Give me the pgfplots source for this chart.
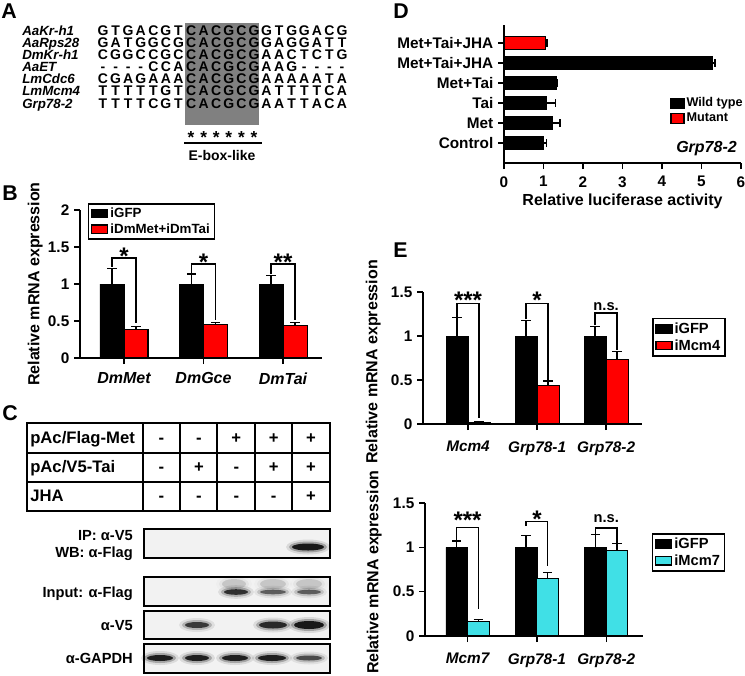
\documentclass[border=0pt]{standalone}
\usepackage{pgfplots}
\pgfplotsset{compat=1.18}
\usepackage{fontspec}
\setmainfont{Liberation Sans}
\definecolor{cyanbar}{RGB}{64,224,230}
\definecolor{boxgray}{RGB}{128,128,128}
\newcommand\fs[1]{\fontsize{#1}{#1}\selectfont}
\newcommand\band[5]{%
  \pgfmathsetmacro\oa{0.10*#5}\pgfmathsetmacro\ob{0.25*#5}\pgfmathsetmacro\oc{0.85*#5}%
  \fill[black, opacity=\oa] (#1,#2) ellipse ({#3+6} and {#4+4});
  \fill[black, opacity=\ob] (#1,#2) ellipse ({#3+3} and {#4+2});
  \fill[black, opacity=\oc] (#1,#2) ellipse ({#3} and {#4});}
\pgfplotsset{
 gp/.style={
  scale only axis, anchor=south west, clip=false,
  axis lines*=left,
  axis line style={line width=1.1pt, black},
  tick style={line width=1.1pt, black},
  major tick length=4.5pt, tick align=outside,
  ticklabel style={font=\bfseries\fs{11.5}},
  label style={font=\bfseries\fs{12}},
  /pgf/number format/assume math mode=true,
  legend cell align=left,
  legend style={draw=black, line width=1.1pt, fill=white, inner xsep=2pt, inner ysep=1.5pt,
    row sep=0pt, font=\bfseries\fs{11}, nodes={inner sep=1.5pt}},
 },
 sq/.style={legend image code/.code={\draw[##1, line width=0.8pt] (0pt,-3.2pt) rectangle (12pt,3.2pt);}},
 sqd/.style={legend image code/.code={\draw[##1, line width=0.8pt] (0pt,-3.8pt) rectangle (9.75pt,3.8pt);}},
 yeb/.style={error bars/.cd, y dir=plus, y explicit, error bar style={line width=1pt,black},
    error mark options={rotate=90, line width=1pt, black, mark size=3.5pt}},
 xeb/.style={error bars/.cd, x dir=plus, x explicit, error bar style={line width=1pt,black},
    error mark options={rotate=90, line width=1pt, black, mark size=3pt}},
}
\begin{document}
\begin{tikzpicture}[font=\bfseries]
\useasboundingbox (0,0) rectangle (558.75pt,-506.25pt);
\begin{scope}[x=0.75pt,y=-0.75pt]
% panel letters
\foreach \L/\x/\y in {A/1/18, B/2/200, C/2/420, D/393/18, E/393/257}
  \node[anchor=base west, inner sep=0, font=\bfseries\fs{16}] at (\x,\y) {\L};
% ---------- Panel A
\fill[boxgray] (185,23) rectangle (259,125);
\foreach \name/\seq [count=\r from 0] in {
  AaKr-h1/{G,T,G,A,C,G,T,C,A,C,G,C,G,G,T,G,G,A,C,G},
  AaRps28/{G,A,T,G,G,C,G,C,A,C,G,C,G,G,A,G,G,A,T,T},
  DmKr-h1/{C,G,G,C,C,G,C,C,A,C,G,C,G,A,A,C,T,C,T,G},
  AaET/{-,-,-,-,C,C,A,C,A,C,G,C,G,A,A,G,-,-,-,-},
  LmCdc6/{C,G,A,G,A,A,A,C,A,C,G,C,G,A,A,A,A,A,T,A},
  LmMcm4/{T,T,T,T,T,G,T,C,A,C,G,C,G,A,T,T,T,T,C,A},
  Grp78-2/{T,T,T,T,C,G,T,C,A,C,G,C,G,A,A,T,T,A,C,A}} {
  \node[anchor=base west, inner sep=0, font=\bfseries\itshape\fs{10}] at (22,{35+12.17*\r}) {\name};
  \foreach \c [count=\i from 0] in \seq
    \node[anchor=base, inner sep=0, font=\bfseries\fs{10.5}] at ({103+12.58*\i},{35+12.17*\r}) {\c};
}
\foreach \i in {7,...,12}
  \node[anchor=base, inner sep=0, font=\bfseries\fs{13}] at ({103+12.58*\i},143.5) {*};
\draw[line width=1.1pt] (184,143) -- (262,143);
\node[anchor=base, inner sep=0, font=\bfseries\fs{10.5}] at (222,160) {E-box-like};
% ---------- Panel C table
\begin{scope}[line width=1.1pt]
\draw (27,423) rectangle (330,511);
\draw (27,453) -- (330,453) (27,482) -- (330,482);
\foreach \x in {143,180,217,255,292} \draw (\x,423) -- (\x,511);
\end{scope}
\node[anchor=base west, inner sep=0, font=\bfseries\fs{12.5}] at (30,443) {pAc/Flag-Met};
\node[anchor=base west, inner sep=0, font=\bfseries\fs{12.5}] at (30,472.5) {pAc/V5-Tai};
\node[anchor=base west, inner sep=0, font=\bfseries\fs{12.5}] at (30,501.5) {JHA};
\foreach \s [count=\i from 0] in {-,-,+,+,+}
  \node[anchor=base, inner sep=0, font=\bfseries\fs{12.5}] at ({161.5+37.4*\i},443) {\s};
\foreach \s [count=\i from 0] in {-,+,-,+,+}
  \node[anchor=base, inner sep=0, font=\bfseries\fs{12.5}] at ({161.5+37.4*\i},472.5) {\s};
\foreach \s [count=\i from 0] in {-,-,-,-,+}
  \node[anchor=base, inner sep=0, font=\bfseries\fs{12.5}] at ({161.5+37.4*\i},501.5) {\s};
% blots
\foreach \t/\b in {529/558, 577/606, 611/639, 644/673}
  \fill[black!5] (144,\t) rectangle (330,\b);
\band{308}{547}{16}{3.5}{1}
\band{234}{584}{12}{5}{0.15}\band{273}{584}{13}{5}{0.15}\band{309}{584}{13}{5}{0.15}
\band{236}{592}{12}{2.8}{0.85}\band{273}{592}{13}{2.3}{0.6}\band{309}{592}{12}{2.3}{0.6}
\band{197}{625}{12}{3}{0.8}\band{273}{625}{14}{3.5}{0.9}\band{309}{625}{15}{4}{1}
\band{160}{658}{13}{3}{0.95}\band{197}{658}{12}{3}{0.95}\band{235}{658}{13}{3}{0.95}
\band{272}{658}{14}{3}{0.95}\band{309}{658}{13}{2.5}{0.7}
\foreach \t/\b in {529/558, 577/606, 611/639, 644/673}
  \draw[line width=1.1pt] (144,\t) rectangle (330,\b);
\foreach \txt/\y in {IP: α-V5/540, WB: α-Flag/557, Input: α-Flag/597, α-V5/630, α-GAPDH/663}
  \node[anchor=base east, inner sep=0, font=\bfseries\fs{11}] at (133,\y) {\txt};
% D annotation
\node[anchor=base east, inner sep=0, font=\bfseries\itshape\fs{12}] at (737,152) {Grp78-2};
\end{scope}

% ---------- Panel B
\begin{axis}[gp, at={(60pt,-268.5pt)}, width=181.5pt, height=111pt,
  xmin=0.447, xmax=3.49, ymin=0, ymax=2,
  xtick={1,2,3}, xticklabels={DmMet,DmGce,DmTai},
  xticklabel style={font=\bfseries\itshape\fs{12}, yshift=-3pt},
  ytick={0,0.5,1,1.5,2},
  ylabel={Relative mRNA expression},
  ylabel style={at={(axis description cs:-0.153,0.5)}, anchor=south, inner sep=0pt},
  legend style={at={(0.033,1.047)}, anchor=north west, font=\bfseries\fs{10}}]
\addplot[ybar, bar width=18pt, bar shift=0pt, fill=black, draw=black, sq, yeb]
  coordinates {(0.849,1) +- (0,0.21) (1.849,1) +- (0,0.135) (2.849,1) +- (0,0.115)};
\addplot[ybar, bar width=18pt, bar shift=0pt, fill=red, draw=black, line width=0.8pt, sq, yeb]
  coordinates {(1.151,0.39) +- (0,0.04) (2.151,0.455) +- (0,0.025) (3.151,0.445) +- (0,0.035)};
\legend{iGFP,iDmMet+iDmTai}
\draw[line width=1.1pt] (axis cs:0.849,1.23) -- (axis cs:0.849,1.35) -- (axis cs:1.151,1.35) -- (axis cs:1.151,0.47);
\draw[line width=1.1pt] (axis cs:1.849,1.15) -- (axis cs:1.849,1.27) -- (axis cs:2.151,1.27) -- (axis cs:2.151,0.51);
\draw[line width=1.1pt] (axis cs:2.849,1.13) -- (axis cs:2.849,1.27) -- (axis cs:3.151,1.27) -- (axis cs:3.151,0.51);
\node[anchor=north, inner sep=0, font=\bfseries\fs{18}] at (axis cs:1,1.49) {*};
\node[anchor=north, inner sep=0, font=\bfseries\fs{18}] at (axis cs:2,1.405) {*};
\node[anchor=north, inner sep=0, font=\bfseries\fs{18}] at (axis cs:3,1.405) {**};
\end{axis}

% ---------- Panel D
\begin{axis}[gp, at={(378pt,-122.25pt)}, width=177.75pt, height=103.5pt,
  xmin=0, xmax=6, ymin=0, ymax=6.9,
  xtick={0,...,6}, ytick={1,...,6},
  xticklabel style={yshift=-2pt},
  yticklabels={Control,Met,Tai,Met+Tai,Met+Tai+JHA,Met+Tai+JHA},
  xlabel={Relative luciferase activity},
  xlabel style={at={(axis description cs:0.5,-0.308)}, anchor=base, inner sep=0pt},
  legend style={at={(0.688,0.507)}, anchor=north west, draw=none, fill=none, font=\bfseries\fs{9.5}}]
\addplot[xbar, bar width=9.75pt, bar shift=0pt, fill=black, draw=black, sqd, xeb]
  coordinates {(1.0,1) +- (0.08,0) (1.23,2) +- (0.19,0) (1.06,3) +- (0.25,0) (1.32,4) +- (0.02,0) (5.28,5) +- (0.06,0)};
\addplot[xbar, bar width=9.75pt, bar shift=0pt, fill=red, draw=black, line width=0.8pt, sqd, xeb]
  coordinates {(1.04,6) +- (0.05,0)};
\legend{Wild type,Mutant}
\end{axis}

% ---------- Panel E top
\begin{axis}[gp, at={(317.25pt,-318pt)}, width=164.25pt, height=99pt,
  xmin=0.348, xmax=3.52, ymin=0, ymax=1.5,
  xtick={1,2,3}, xticklabels={Mcm4,Grp78-1,Grp78-2},
  xticklabel style={font=\bfseries\itshape\fs{11.5}, yshift=-5pt},
  ytick={0,0.5,1,1.5},
  ylabel={Relative mRNA expression},
  ylabel style={at={(axis description cs:-0.192,0.47)}, anchor=south, inner sep=0pt},
  legend style={at={(1.046,0.803)}, anchor=north west}]
\addplot[ybar, bar width=16.5pt, bar shift=0pt, fill=black, draw=black, sq, yeb]
  coordinates {(0.841,1) +- (0,0.21) (1.841,1) +- (0,0.18) (2.841,1) +- (0,0.11)};
\addplot[ybar, bar width=16.5pt, bar shift=0pt, fill=red, draw=black, line width=0.8pt, sq, yeb]
  coordinates {(1.159,0.02) +- (0,0.005) (2.159,0.435) +- (0,0.055) (3.159,0.735) +- (0,0.09)};
\legend{iGFP,iMcm4}
\draw[line width=1.1pt] (axis cs:0.841,1.22) -- (axis cs:0.841,1.37) -- (axis cs:1.159,1.37) -- (axis cs:1.159,0.07);
\draw[line width=1.1pt] (axis cs:1.841,1.19) -- (axis cs:1.841,1.37) -- (axis cs:2.159,1.37) -- (axis cs:2.159,0.5);
\draw[line width=1.1pt] (axis cs:2.841,1.12) -- (axis cs:2.841,1.26) -- (axis cs:3.159,1.26) -- (axis cs:3.159,0.84);
\node[anchor=north, inner sep=0, font=\bfseries\fs{18}] at (axis cs:1,1.5) {***};
\node[anchor=north, inner sep=0, font=\bfseries\fs{18}] at (axis cs:2,1.5) {*};
\node[anchor=base, inner sep=0, font=\bfseries\fs{11}] at (axis cs:3,1.295) {n.s.};
\end{axis}

% ---------- Panel E bottom
\begin{axis}[gp, at={(318.75pt,-477pt)}, width=163.5pt, height=99.75pt,
  xmin=0.386, xmax=3.53, ymin=0, ymax=1.5,
  xtick={1,2,3}, xticklabels={Mcm7,Grp78-1,Grp78-2},
  xticklabel style={font=\bfseries\itshape\fs{11.5}, yshift=-5pt},
  ytick={0,0.5,1,1.5},
  ylabel={Relative mRNA expression},
  ylabel style={at={(axis description cs:-0.197,0.48)}, anchor=south, inner sep=0pt},
  legend style={at={(1.041,0.774)}, anchor=north west}]
\addplot[ybar, bar width=16.2pt, bar shift=0pt, fill=black, draw=black, sq, yeb]
  coordinates {(0.844,1) +- (0,0.07) (1.844,1) +- (0,0.135) (2.844,1) +- (0,0.145)};
\addplot[ybar, bar width=16.2pt, bar shift=0pt, fill=cyanbar, draw=black, line width=0.8pt, sq, yeb]
  coordinates {(1.156,0.16) +- (0,0.025) (2.156,0.645) +- (0,0.07) (3.156,0.965) +- (0,0.075)};
\legend{iGFP,iMcm7}
\draw[line width=1.1pt] (axis cs:0.844,1.08) -- (axis cs:0.844,1.224) -- (axis cs:1.156,1.224) -- (axis cs:1.156,0.3);
\draw[line width=1.1pt] (axis cs:1.844,1.24) -- (axis cs:1.844,1.29) -- (axis cs:2.156,1.29) -- (axis cs:2.156,0.79);
\draw[line width=1.1pt] (axis cs:2.844,1.15) -- (axis cs:2.844,1.216) -- (axis cs:3.156,1.216) -- (axis cs:3.156,1.05);
\node[anchor=north, inner sep=0, font=\bfseries\fs{18}] at (axis cs:1,1.40) {***};
\node[anchor=north, inner sep=0, font=\bfseries\fs{18}] at (axis cs:2,1.41) {*};
\node[anchor=base, inner sep=0, font=\bfseries\fs{11}] at (axis cs:3,1.28) {n.s.};
\end{axis}
\end{tikzpicture}
\end{document}
